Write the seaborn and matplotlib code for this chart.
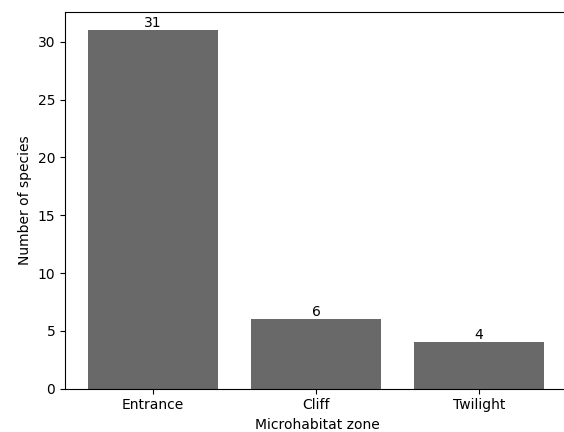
import matplotlib
matplotlib.use("Agg")
import matplotlib.pyplot as plt
import seaborn as sns
import pandas as pd

zones = ["Entrance", "Cliff", "Twilight"]
species = [31, 6, 4]

df = pd.DataFrame({"Microhabitat zone": zones, "Number of species": species})

fig = plt.figure(figsize=(5.64, 4.32), dpi=100)
ax = fig.add_axes([65 / 564, 1 - 388.7 / 432, 505.3 / 564, (388.7 - 12.3) / 432])
sns.barplot(data=df, x="Microhabitat zone", y="Number of species", color="#696969",
            saturation=1, width=0.8, ax=ax)
for c in ax.containers:
    ax.bar_label(c, fmt="%d")
ax.set_xlim(-0.54, 2.56)
ax.set_ylim(0, 32.55)
fig.savefig("out.png", dpi=100)
